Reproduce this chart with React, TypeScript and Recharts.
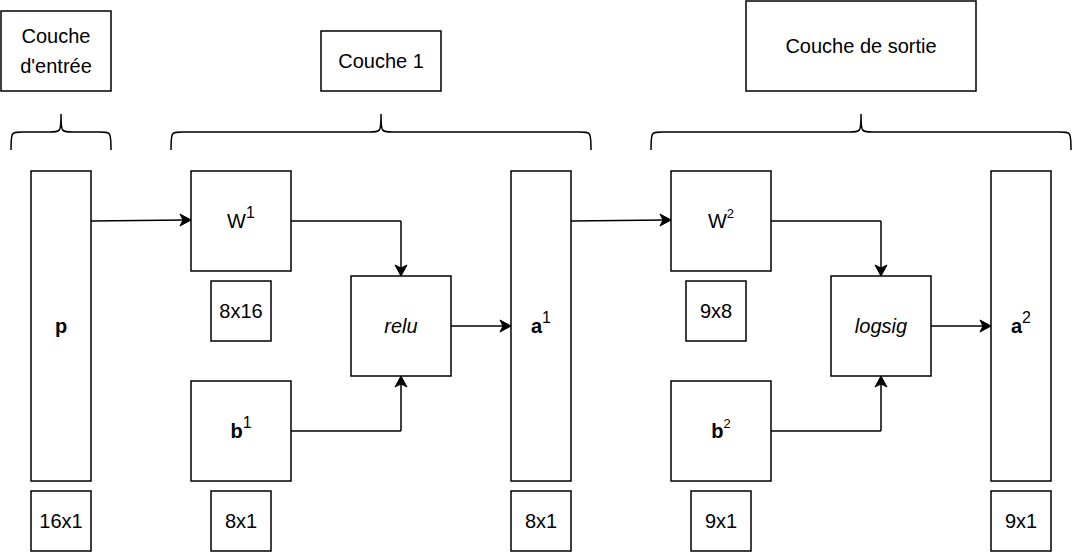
import React from "react";
import { ScatterChart, XAxis, YAxis, ReferenceArea, ReferenceLine, ReferenceDot } from "recharts";

// boxes: [x1, y1, x2, y2]
const boxes = [
  { id: "in", x1: 1, y1: 11, x2: 111, y2: 91, lines: ["Couche", "d'entrée"] },
  { id: "c1", x1: 321, y1: 31, x2: 441, y2: 91, lines: ["Couche 1"] },
  { id: "out", x1: 746, y1: 1, x2: 976, y2: 91, lines: ["Couche de sortie"] },
  { id: "p", x1: 31, y1: 171, x2: 91, y2: 481, main: "p", bold: true },
  { id: "d0", x1: 31, y1: 491, x2: 91, y2: 551, lines: ["16x1"] },
  { id: "W1", x1: 191, y1: 171, x2: 291, y2: 271, main: "W", sup: "1" },
  { id: "d1", x1: 211, y1: 281, x2: 271, y2: 341, lines: ["8x16"] },
  { id: "b1", x1: 191, y1: 381, x2: 291, y2: 481, main: "b", sup: "1", bold: true },
  { id: "d2", x1: 211, y1: 491, x2: 271, y2: 551, lines: ["8x1"] },
  { id: "relu", x1: 351, y1: 276, x2: 451, y2: 376, main: "relu", italic: true },
  { id: "a1", x1: 511, y1: 171, x2: 571, y2: 481, main: "a", sup: "1", bold: true },
  { id: "d3", x1: 511, y1: 491, x2: 571, y2: 551, lines: ["8x1"] },
  { id: "W2", x1: 671, y1: 171, x2: 771, y2: 271, main: "W", sup: "2", small: true },
  { id: "d4", x1: 686, y1: 281, x2: 746, y2: 341, lines: ["9x8"] },
  { id: "b2", x1: 671, y1: 381, x2: 771, y2: 481, main: "b", sup: "2", bold: true, small: true },
  { id: "d5", x1: 691, y1: 491, x2: 751, y2: 551, lines: ["9x1"] },
  { id: "logsig", x1: 831, y1: 276, x2: 931, y2: 376, main: "logsig", italic: true },
  { id: "a2", x1: 991, y1: 171, x2: 1051, y2: 481, main: "a", sup: "2", bold: true },
  { id: "d6", x1: 991, y1: 491, x2: 1051, y2: 551, lines: ["9x1"] },
];

// braces: [x1, x2], between y 114 and 150
const braces = [
  [11, 111],
  [171, 591],
  [651, 1071],
];

// connectors: polyline points, arrowhead at last point
const connectors = [
  [[91, 221], [185, 220]],
  [[291, 221], [401, 221], [401, 270]],
  [[291, 431], [401, 431], [401, 382]],
  [[451, 326], [505, 326]],
  [[571, 221], [665, 220]],
  [[771, 221], [881, 221], [881, 270]],
  [[771, 431], [881, 431], [881, 382]],
  [[931, 326], [985, 326]],
];

const FONT = "Liberation Sans, Arial, sans-serif";

const boxLabel = (b: any) => (props: any) => {
  const vb = props.viewBox || {};
  const cx = vb.x + vb.width / 2;
  const cy = vb.y + vb.height / 2;
  if (b.lines) {
    const n = b.lines.length;
    return (
      <text x={cx} textAnchor="middle" fontFamily={FONT} fontSize={20} fill="#000">
        {b.lines.map((l: string, i: number) => (
          <tspan key={i} x={cx} y={cy + 7 + (i - (n - 1) / 2) * 30}>{l}</tspan>
        ))}
      </text>
    );
  }
  return (
    <text x={cx} y={cy + 7} textAnchor="middle" fontFamily={FONT} fontSize={20} fill="#000">
      <tspan fontWeight={b.bold ? "bold" : "normal"} fontStyle={b.italic ? "italic" : "normal"}>{b.main}</tspan>
      {b.sup && (
        <tspan dy={-10} fontSize={b.small ? 13 : 16}>{b.sup}</tspan>
      )}
    </text>
  );
};

const BraceShape = (props: any) => {
  const { x, y, width } = props;
  const l = x, r = x + width, m = x + width / 2;
  const top = y, mid = y + 18, bot = y + 36;
  const d = `M${l},${bot} C${l},${mid} ${l},${mid} ${l + 12},${mid} L${m - 12},${mid} C${m},${mid} ${m},${mid} ${m},${top} C${m},${mid} ${m},${mid} ${m + 12},${mid} L${r - 12},${mid} C${r},${mid} ${r},${mid} ${r},${bot}`;
  return <path d={d} fill="none" stroke="#000" strokeWidth={1.5} />;
};

const arrowShape = (dir: string) => (props: any) => {
  const { cx, cy } = props;
  let pts = "";
  if (dir === "right") pts = `${cx + 6},${cy} ${cx - 5},${cy - 6} ${cx - 2},${cy} ${cx - 5},${cy + 6}`;
  if (dir === "down") pts = `${cx},${cy + 6} ${cx - 6},${cy - 5} ${cx},${cy - 2} ${cx + 6},${cy - 5}`;
  if (dir === "up") pts = `${cx},${cy - 6} ${cx - 6},${cy + 5} ${cx},${cy + 2} ${cx + 6},${cy + 5}`;
  return <polygon points={pts} fill="#000" stroke="#000" strokeWidth={1} />;
};

export default function App() {
  return (
    <div style={{ position: "absolute", left: 0, top: 0, background: "#fff" }}>
      <ScatterChart width={1072} height={552} margin={{ top: 0, right: 0, bottom: 0, left: 0 }}>
        <XAxis type="number" dataKey="x" domain={[0, 1072]} hide allowDataOverflow />
        <YAxis type="number" dataKey="y" domain={[0, 552]} reversed hide allowDataOverflow />
        {braces.map(([a, b], i) => (
          <ReferenceArea key={"br" + i} x1={a} x2={b} y1={114} y2={150} shape={BraceShape} ifOverflow="visible" />
        ))}
        {connectors.flatMap((pts, i) =>
          pts.slice(1).map((p, j) => (
            <ReferenceLine
              key={`c${i}-${j}`}
              segment={[{ x: pts[j][0], y: pts[j][1] }, { x: p[0], y: p[1] }]}
              stroke="#000"
              strokeWidth={1.5}
              ifOverflow="visible"
            />
          ))
        )}
        {connectors.map((pts, i) => {
          const a = pts[pts.length - 2];
          const b = pts[pts.length - 1];
          const dir = b[0] > a[0] ? "right" : b[1] > a[1] ? "down" : "up";
          return (
            <ReferenceDot key={"ar" + i} x={b[0]} y={b[1]} r={6} shape={arrowShape(dir)} ifOverflow="visible" />
          );
        })}
        {boxes.map((b) => (
          <ReferenceArea
            key={b.id}
            x1={b.x1}
            x2={b.x2}
            y1={b.y1}
            y2={b.y2}
            fill="#fff"
            fillOpacity={1}
            stroke="#000"
            strokeWidth={1.5}
            ifOverflow="visible"
            label={boxLabel(b)}
          />
        ))}
      </ScatterChart>
    </div>
  );
}
